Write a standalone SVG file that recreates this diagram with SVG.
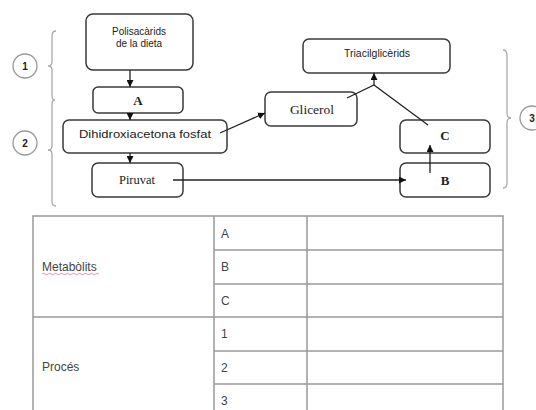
<svg xmlns="http://www.w3.org/2000/svg" width="536" height="410" viewBox="0 0 536 410">
<style>
.box{fill:#fff;stroke:#3a3a3a;stroke-width:1.5}
.ln{fill:none;stroke:#222;stroke-width:1.3}
.sans{font-family:"Liberation Sans",Arial,sans-serif;fill:#222}
.serif{font-family:"Liberation Serif","Times New Roman",serif;fill:#222}
.brace{fill:none;stroke:#aaa;stroke-width:1.3}
.circ{fill:#fff;stroke:#999;stroke-width:1.3}
.tl{stroke:#999;stroke-width:1.5;fill:none}
.tt{font-family:"Liberation Sans",Arial,sans-serif;font-size:12px;fill:#444}
</style>
<defs>
<marker id="ah" viewBox="0 0 10 10" refX="10" refY="5" markerWidth="7" markerHeight="7" orient="auto" markerUnits="userSpaceOnUse">
<path d="M0,0 L10,5 L0,10 z" fill="#111"/>
</marker>
</defs>
<rect width="536" height="410" fill="#fff"/>

<g id="braces">
<path class="brace" d="M56,31 Q52,31 52,36 L52,62 Q52,66 48,66 Q52,66 52,70 L52,96 Q52,100 55,100 Q52,100 52,104 L52,146 Q52,150 48,150 Q52,150 52,154 L52,202 Q52,206 56,206"/>
<path class="brace" d="M503,50 Q507,50 507,55 L507,113 Q507,118 511,118 Q507,118 507,123 L507,183 Q507,188 503,188"/>
</g>

<g id="label1"><circle class="circ" cx="25" cy="66" r="12"/><text class="sans" x="25" y="70" font-size="10" font-weight="bold" text-anchor="middle">1</text></g>
<g id="label2"><circle class="circ" cx="25" cy="143" r="12"/><text class="sans" x="25" y="147" font-size="10" font-weight="bold" text-anchor="middle">2</text></g>
<g id="label3"><circle class="circ" cx="532" cy="118" r="12"/><text class="sans" x="532" y="122" font-size="10" font-weight="bold" text-anchor="middle">3</text></g>

<g id="polisacarids">
<rect class="box" x="86" y="14" width="107" height="56" rx="7"/>
<text class="sans" x="139" y="35" font-size="10" text-anchor="middle">Polisacàrids</text>
<text class="sans" x="139" y="47" font-size="10" text-anchor="middle">de la dieta</text>
</g>
<g id="A">
<rect class="box" x="93" y="87" width="90" height="26" rx="5"/>
<text class="serif" x="138" y="105" font-size="13" font-weight="bold" text-anchor="middle">A</text>
</g>
<g id="dhap">
<rect class="box" x="63" y="120" width="164" height="33" rx="6"/>
<text class="sans" x="145" y="138" font-size="11" text-anchor="middle" textLength="132" lengthAdjust="spacingAndGlyphs">Dihidroxiacetona fosfat</text>
</g>
<g id="piruvat">
<rect class="box" x="92" y="163" width="91" height="34" rx="6"/>
<text class="serif" x="137" y="184" font-size="12.5" text-anchor="middle">Piruvat</text>
</g>
<g id="glicerol">
<rect class="box" x="265" y="92" width="92" height="34" rx="6"/>
<text class="serif" x="312" y="114" font-size="13.5" text-anchor="middle">Glicerol</text>
</g>
<g id="triacil">
<rect class="box" x="303" y="39" width="147" height="34" rx="6"/>
<text class="sans" x="377" y="57" font-size="10.5" text-anchor="middle">Triacilglicèrids</text>
</g>
<g id="C">
<rect class="box" x="400" y="120" width="90" height="33" rx="6"/>
<text class="serif" x="445" y="140" font-size="13" font-weight="bold" text-anchor="middle">C</text>
</g>
<g id="B">
<rect class="box" x="400" y="163" width="90" height="34" rx="6"/>
<text class="serif" x="445" y="185" font-size="13" font-weight="bold" text-anchor="middle">B</text>
</g>

<g id="connectors">
<line class="ln" x1="130" y1="70" x2="130" y2="87" marker-end="url(#ah)"/>
<line class="ln" x1="130" y1="113" x2="130" y2="120" marker-end="url(#ah)"/>
<line class="ln" x1="130" y1="153" x2="130" y2="163" marker-end="url(#ah)"/>
<line class="ln" x1="220" y1="133" x2="265" y2="113" marker-end="url(#ah)"/>
<line class="ln" x1="173" y1="180" x2="406" y2="180" marker-end="url(#ah)"/>
<line class="ln" x1="430" y1="173" x2="430" y2="145" marker-end="url(#ah)"/>
<polyline class="ln" points="347,98 374,85 428,125"/>
<line class="ln" x1="374" y1="85" x2="374" y2="73" marker-end="url(#ah)"/>
</g>

<g id="table">
<rect class="tl" x="33" y="216" width="470" height="204"/>
<line class="tl" x1="214" y1="216" x2="214" y2="420"/>
<line class="tl" x1="307" y1="216" x2="307" y2="420"/>
<line class="tl" x1="214" y1="250" x2="503" y2="250"/>
<line class="tl" x1="214" y1="284" x2="503" y2="284"/>
<line class="tl" x1="33" y1="317" x2="503" y2="317"/>
<line class="tl" x1="214" y1="351" x2="503" y2="351"/>
<line class="tl" x1="214" y1="384" x2="503" y2="384"/>
<text class="tt" x="42" y="271">Metabòlits</text>
<path d="M42,274 q1.5,-1.5 3,0 t3,0 t3,0 t3,0 t3,0 t3,0 t3,0 t3,0 t3,0 t3,0 t3,0 t3,0 t3,0 t3,0 t3,0 t3,0 t3,0 t3,0 t3,0" fill="none" stroke="#e06080" stroke-width="0.7"/>
<text class="tt" x="42" y="371">Procés</text>
<text class="tt" x="221" y="238">A</text>
<text class="tt" x="221" y="271">B</text>
<text class="tt" x="221" y="305">C</text>
<text class="tt" x="221" y="338">1</text>
<text class="tt" x="221" y="372">2</text>
<text class="tt" x="221" y="405">3</text>
</g>
</svg>
